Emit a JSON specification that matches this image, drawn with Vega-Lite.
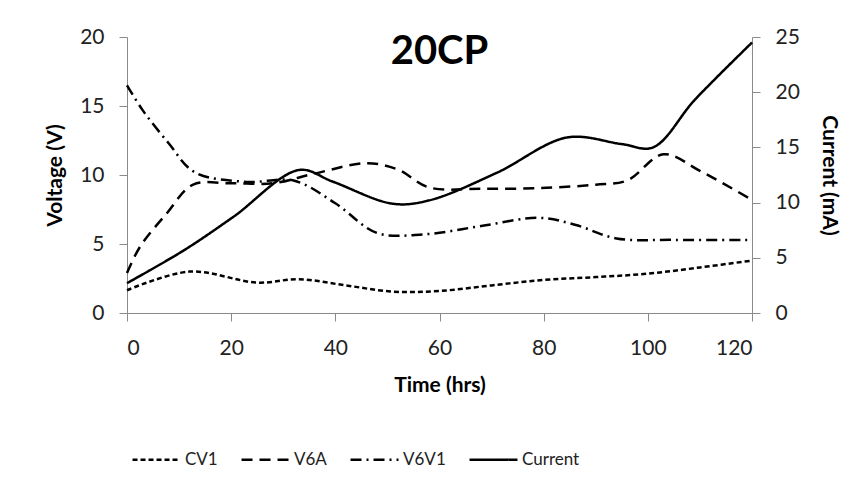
{
  "$schema": "https://vega.github.io/schema/vega-lite/v6.json",
  "autosize": {"type": "none"},
  "padding": {"left": 127, "top": 37, "right": 109, "bottom": 179},
  "width": 625,
  "height": 276,
  "background": "white",
  "title": {"text": "20CP", "fontSize": 40, "font": "Lato", "fontWeight": "bold", "color": "black", "anchor": "middle", "frame": "group", "offset": -46},
  "config": {
    "font": "Lato",
    "view": {"stroke": null},
    "axis": {"grid": false, "domainColor": "#8a8a8a", "tickColor": "#8a8a8a", "tickSize": 8, "labelFont": "Lato", "labelFontSize": 21, "labelColor": "#222", "titleFont": "Lato", "titleFontSize": 21, "titleFontWeight": "bold", "titleColor": "black", "labelPadding": 15}
  },
  "data": {"values": [
    {"series": "CV1", "t": 0, "v": 1.65},
    {"series": "CV1", "t": 12, "v": 3.0},
    {"series": "CV1", "t": 25, "v": 2.2},
    {"series": "CV1", "t": 33, "v": 2.45},
    {"series": "CV1", "t": 42, "v": 2.0},
    {"series": "CV1", "t": 51, "v": 1.55},
    {"series": "CV1", "t": 60, "v": 1.6},
    {"series": "CV1", "t": 70, "v": 2.0},
    {"series": "CV1", "t": 80, "v": 2.4},
    {"series": "CV1", "t": 90, "v": 2.6},
    {"series": "CV1", "t": 100, "v": 2.85},
    {"series": "CV1", "t": 110, "v": 3.3},
    {"series": "CV1", "t": 120, "v": 3.8},
    {"series": "V6A", "t": 0, "v": 2.9},
    {"series": "V6A", "t": 2.5, "v": 4.8},
    {"series": "V6A", "t": 7.6, "v": 7.2},
    {"series": "V6A", "t": 12.7, "v": 9.3},
    {"series": "V6A", "t": 20, "v": 9.4},
    {"series": "V6A", "t": 28, "v": 9.4},
    {"series": "V6A", "t": 36, "v": 10.1},
    {"series": "V6A", "t": 46, "v": 10.85},
    {"series": "V6A", "t": 52, "v": 10.4},
    {"series": "V6A", "t": 58, "v": 9.1},
    {"series": "V6A", "t": 68, "v": 9.0},
    {"series": "V6A", "t": 79, "v": 9.05},
    {"series": "V6A", "t": 90, "v": 9.3},
    {"series": "V6A", "t": 96, "v": 9.6},
    {"series": "V6A", "t": 103, "v": 11.5},
    {"series": "V6A", "t": 110, "v": 10.3},
    {"series": "V6A", "t": 120, "v": 8.2},
    {"series": "V6V1", "t": 0, "v": 16.5},
    {"series": "V6V1", "t": 3, "v": 14.7},
    {"series": "V6V1", "t": 8, "v": 12.3},
    {"series": "V6V1", "t": 13, "v": 10.2},
    {"series": "V6V1", "t": 23, "v": 9.5},
    {"series": "V6V1", "t": 32, "v": 9.6},
    {"series": "V6V1", "t": 40, "v": 7.95},
    {"series": "V6V1", "t": 48, "v": 5.8},
    {"series": "V6V1", "t": 57, "v": 5.7},
    {"series": "V6V1", "t": 68, "v": 6.3},
    {"series": "V6V1", "t": 79, "v": 6.9},
    {"series": "V6V1", "t": 86, "v": 6.4},
    {"series": "V6V1", "t": 94, "v": 5.4},
    {"series": "V6V1", "t": 105, "v": 5.3},
    {"series": "V6V1", "t": 120, "v": 5.3},
    {"series": "Current", "t": 0, "v": 2.7},
    {"series": "Current", "t": 11, "v": 5.7},
    {"series": "Current", "t": 20.4, "v": 8.7},
    {"series": "Current", "t": 33, "v": 12.95},
    {"series": "Current", "t": 39.5, "v": 11.9},
    {"series": "Current", "t": 51, "v": 9.9},
    {"series": "Current", "t": 58, "v": 10.2},
    {"series": "Current", "t": 71, "v": 12.7},
    {"series": "Current", "t": 84.5, "v": 15.9},
    {"series": "Current", "t": 95, "v": 15.3},
    {"series": "Current", "t": 101, "v": 15.0},
    {"series": "Current", "t": 109, "v": 19.3},
    {"series": "Current", "t": 120, "v": 24.5}
  ]},
  "encoding": {
    "x": {"field": "t", "type": "quantitative", "scale": {"domain": [0, 120], "nice": false}, "axis": {"values": [0, 20, 40, 60, 80, 100, 120], "title": "Time (hrs)", "titlePadding": 16, "labelPadding": 16}},
    "strokeDash": {"field": "series", "type": "nominal", "scale": {"domain": ["CV1", "V6A", "V6V1", "Current"], "range": [[5, 3], [11, 7], [11, 5, 2, 5], [1, 0]]},
      "legend": {"title": null, "orient": "none", "direction": "horizontal", "legendX": 4, "legendY": 397, "symbolType": "stroke", "symbolSize": 2300, "symbolStrokeWidth": 2.5, "symbolStrokeColor": "black", "labelFontSize": 17, "labelFont": "Lato", "labelColor": "#222", "labelOffset": 3, "columnPadding": 18}
    }
  },
  "layer": [
    {
      "transform": [{"filter": "datum.series != 'Current'"}],
      "mark": {"type": "line", "interpolate": "catmull-rom", "color": "black", "strokeWidth": 2.5},
      "encoding": {
        "y": {"field": "v", "type": "quantitative", "scale": {"domain": [0, 20], "nice": false}, "axis": {"values": [0, 5, 10, 15, 20], "title": "Voltage (V)", "titlePadding": 14}},
        "detail": {"field": "series"}
      }
    },
    {
      "transform": [{"filter": "datum.series == 'Current'"}],
      "mark": {"type": "line", "interpolate": "catmull-rom", "color": "black", "strokeWidth": 2.5},
      "encoding": {
        "y": {"field": "v", "type": "quantitative", "scale": {"domain": [0, 25], "nice": false}, "axis": {"orient": "right", "values": [0, 5, 10, 15, 20, 25], "title": "Current (mA)", "titlePadding": 19}}
      }
    }
  ],
  "resolve": {"scale": {"y": "independent"}}
}
